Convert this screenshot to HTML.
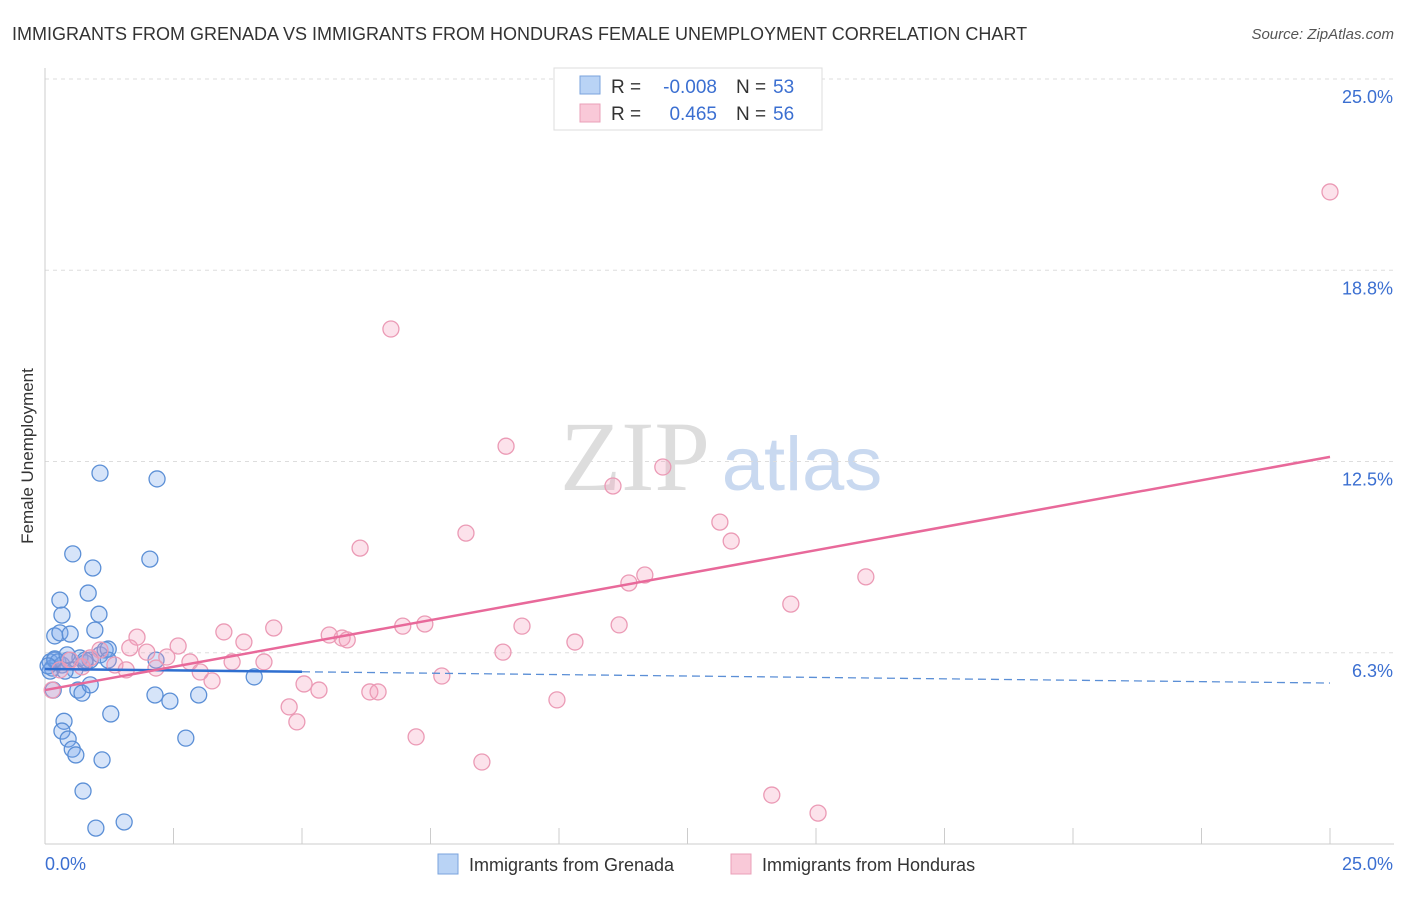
<!DOCTYPE html>
<html><head><meta charset="utf-8"><style>
body{margin:0;background:#fff;font-family:"Liberation Sans",sans-serif}
</style></head><body>
<svg id="c" width="1406" height="892" xmlns="http://www.w3.org/2000/svg" font-family="Liberation Sans, sans-serif">
<text x="12" y="40" font-size="18" fill="#333">IMMIGRANTS FROM GRENADA VS IMMIGRANTS FROM HONDURAS FEMALE UNEMPLOYMENT CORRELATION CHART</text>
<text x="1394" y="39" font-size="15" fill="#555" font-style="italic" text-anchor="end">Source: ZipAtlas.com</text>
<text transform="translate(33,456) rotate(-90)" font-size="17" fill="#333" text-anchor="middle">Female Unemployment</text>
<g><text x="635" y="490" font-size="100" fill="#ddd" font-family="Liberation Serif, serif" text-anchor="middle">ZIP</text><text x="802" y="490" font-size="76" fill="#c9d9f0" text-anchor="middle">atlas</text></g>
<g id="grid"></g><g id="axes"></g><g id="marks"></g>
<g>
<rect x="554" y="68" width="268" height="62" fill="#fff" stroke="#ddd"/>
<rect x="580" y="76" width="20" height="18" fill="#b9d3f5" stroke="#7aa3dd"/>
<rect x="580" y="104" width="20" height="18" fill="#f9c9d8" stroke="#eaa0b8"/>
<text x="611" y="93" font-size="19" fill="#333">R =</text>
<text x="717" y="93" font-size="19" fill="#3b6fd1" text-anchor="end">-0.008</text>
<text x="736" y="93" font-size="19" fill="#333">N =</text>
<text x="773" y="93" font-size="19" fill="#3b6fd1">53</text>
<text x="611" y="120" font-size="19" fill="#333">R =</text>
<text x="717" y="120" font-size="19" fill="#3b6fd1" text-anchor="end">0.465</text>
<text x="736" y="120" font-size="19" fill="#333">N =</text>
<text x="773" y="120" font-size="19" fill="#3b6fd1">56</text>
</g>
<g>
<rect x="438" y="854" width="20" height="20" fill="#b9d3f5" stroke="#7aa3dd"/>
<text x="469" y="871" font-size="18" fill="#333">Immigrants from Grenada</text>
<rect x="731" y="854" width="20" height="20" fill="#f9c9d8" stroke="#eaa0b8"/>
<text x="762" y="871" font-size="18" fill="#333">Immigrants from Honduras</text>
</g>
</svg>
<script>
const yTicks=[6.25,12.5,18.75,25];
const yTickLabels=["6.3%","12.5%","18.8%","25.0%"];
const xTicks=[0,2.5,5,7.5,10,12.5,15,17.5,20,22.5,25];
const grenadaX=[0.1,0.14,0.19,0.25,0.16,0.19,0.29,0.49,0.29,0.33,0.54,0.93,0.84,1.05,0.97,1.07,2.18,2.04,0.33,0.45,0.58,0.68,0.78,0.88,1.07,1.17,1.23,0.64,0.72,0.88,0.78,0.37,0.33,0.45,0.53,0.6,1.11,1.28,0.74,0.99,1.54,2.14,2.43,2.99,2.74,2.16,4.07,0.39,0.1,0.19,0.06,0.43,1.23];
const grenadaY=[5.95,5.75,6.01,5.95,5.03,6.8,6.9,6.86,7.97,7.48,9.48,9.02,8.2,7.51,6.99,12.12,11.93,9.31,5.85,6.01,5.69,6.08,5.92,6.01,6.18,6.34,6.37,5.03,4.93,5.2,6.01,4.01,3.69,3.43,3.1,2.91,2.75,4.25,1.73,0.52,0.72,4.87,4.67,4.87,3.46,6.01,5.46,5.65,5.65,6.05,5.82,6.18,6.01];
const hondurasX=[25,6.73,8.97,12.02,11.05,8.19,6.13,13.13,13.35,11.67,11.36,15.97,14.51,7.39,6.96,9.28,11.17,10.31,5.78,5.53,5.88,8.91,4.45,3.87,3.48,1.79,2.59,2.37,1.98,1.65,2.16,1.36,1.58,2.82,3.02,3.25,3.64,4.26,5.04,5.33,6.32,6.48,7.72,9.96,4.75,4.9,7.22,8.5,14.14,15.04,0.14,0.29,0.49,0.88,1.07,0.72];
const hondurasY=[21.31,16.83,13.0,12.32,11.7,10.16,9.67,10.52,9.9,8.79,8.53,8.73,7.84,7.19,7.12,7.12,7.16,6.6,6.73,6.83,6.67,6.27,7.06,6.6,6.93,6.76,6.47,6.11,6.27,6.41,5.75,5.85,5.69,5.95,5.62,5.33,5.95,5.95,5.23,5.03,4.97,4.97,5.49,4.71,4.48,3.99,3.5,2.68,1.6,1.01,5.03,5.69,6.01,6.08,6.34,5.79];
const grenadaFit=[5.72,5.26];
const hondurasFit=[5.03,12.65];
const NS="http://www.w3.org/2000/svg";
const sx=v=>45+v*51.4, sy=v=>844-v*30.6;
function mk(p,t,a){const e=document.createElementNS(NS,t);for(const k in a)e.setAttribute(k,a[k]);document.getElementById(p).appendChild(e);return e;}
yTicks.forEach((t,i)=>{
 const l=mk('grid','line',{x1:45,x2:1394,y1:sy(t),y2:sy(t),stroke:'#ddd','stroke-dasharray':'4,4'});
 
 
 const tx=mk('axes','text',{x:1393,y:sy(t)+24,'font-size':18,fill:'#3b6fd1','text-anchor':'end'});
 tx.textContent=yTickLabels[i];
 
 
});
const ax=mk('axes','line',{x1:45,x2:1394,y1:844,y2:844,stroke:'#ccc'});


const ay=mk('axes','line',{x1:45,x2:45,y1:68,y2:844,stroke:'#ccc'});


xTicks.forEach(t=>{const l=mk('axes','line',{x1:sx(t),x2:sx(t),y1:828,y2:844,stroke:'#ccc'});
 
 });
const x0=mk('axes','text',{x:45,y:870,'font-size':18,fill:'#3b6fd1'});x0.textContent='0.0%';


const x1=mk('axes','text',{x:1393,y:870,'font-size':18,fill:'#3b6fd1','text-anchor':'end'});x1.textContent='25.0%';


grenadaX.forEach((x,i)=>{const c=mk('marks','circle',{cx:sx(x),cy:sy(grenadaY[i]),r:8,fill:'rgba(120,165,235,0.3)',stroke:'#5b8fd6','stroke-width':1.3});
 
 });
hondurasX.forEach((x,i)=>{const c=mk('marks','circle',{cx:sx(x),cy:sy(hondurasY[i]),r:8,fill:'rgba(245,160,190,0.3)',stroke:'#eb9ab5','stroke-width':1.3});
 
 });
const gy=x=>grenadaFit[0]+(grenadaFit[1]-grenadaFit[0])*x/25;
const g1=mk('marks','line',{x1:sx(0),y1:sy(gy(0)),x2:sx(5),y2:sy(gy(5)),stroke:'#2f6fd0','stroke-width':2.5});


const g2=mk('marks','line',{x1:sx(5),y1:sy(gy(5)),x2:sx(25),y2:sy(gy(25)),stroke:'#5b8fd6','stroke-width':1.3,'stroke-dasharray':'8,5'});


const h=mk('marks','line',{x1:sx(0),y1:sy(hondurasFit[0]),x2:sx(25),y2:sy(hondurasFit[1]),stroke:'#e8699a','stroke-width':2.5});


</script>
</body></html>
